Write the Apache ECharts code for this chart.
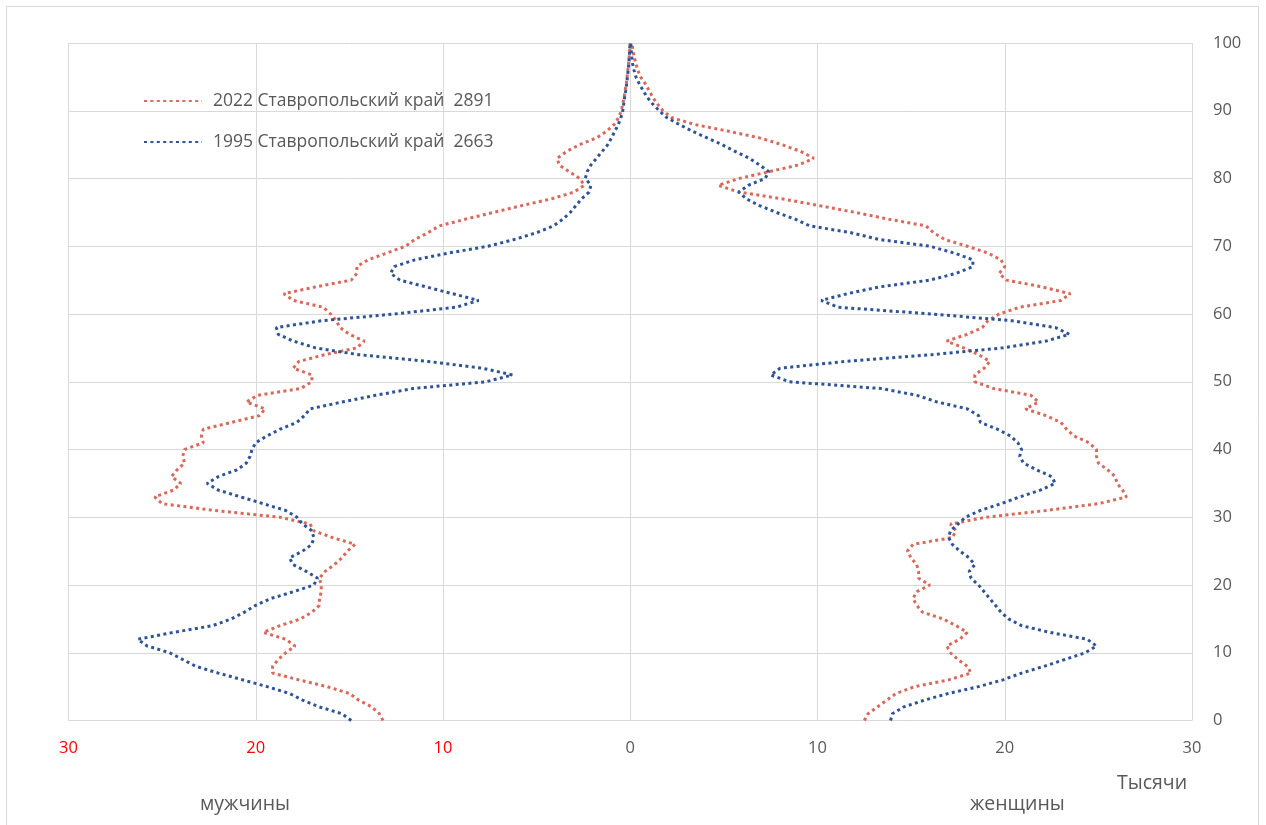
<!DOCTYPE html>
<html>
<head>
<meta charset="utf-8">
<script src="https://cdn.jsdelivr.net/npm/echarts@6/dist/echarts.min.js"></script>
<style>
html,body{margin:0;padding:0;background:#fff;}
#chart{width:1266px;height:825px;}
</style>
</head>
<body>
<div id="chart"></div>
<script>
const ages = [0,1,2,3,4,5,6,7,8,9,10,11,12,13,14,15,16,17,18,19,20,21,22,23,24,25,26,27,28,29,30,31,32,33,34,35,36,37,38,39,40,41,42,43,44,45,46,47,48,49,50,51,52,53,54,55,56,57,58,59,60,61,62,63,64,65,66,67,68,69,70,71,72,73,74,75,76,77,78,79,80,81,82,83,84,85,86,87,88,89,90,91,92,93,94,95,96,97,98,99,100];

// 2022, men (thousands)
const men2022 = [13.2,13.4,13.8,14.5,15.0,16.2,17.7,19.1,19.1,18.8,
 18.4,17.9,18.4,19.6,18.7,17.6,17.0,16.6,16.6,16.5,
 16.5,16.6,16.3,15.8,15.4,15.1,14.7,15.9,16.9,17.1,
 18.7,22.2,25.0,25.4,24.4,24.0,24.5,24.2,23.8,23.9,
 23.8,22.8,22.9,22.8,21.3,19.8,19.5,20.5,19.9,17.6,
 17.0,17.0,18.0,17.7,16.3,14.6,14.2,15.0,15.5,15.7,
 16.0,16.4,18.0,18.5,16.8,14.9,14.6,14.6,14.0,13.0,
 12.0,11.5,10.8,10.2,8.8,7.3,5.8,4.2,3.0,2.45,
 2.7,3.25,3.8,3.9,3.4,2.7,1.8,1.25,0.85,0.62,
 0.48,0.4,0.33,0.27,0.21,0.17,0.13,0.09,0.06,0.03,0.01];

// 1995, men (thousands)
const men1995 = [14.9,15.4,16.6,17.5,18.2,19.4,20.7,22.0,23.2,23.9,
 24.6,25.8,26.3,24.4,22.3,21.3,20.6,20.0,19.2,18.0,
 16.9,16.7,17.3,18.0,18.2,17.5,17.0,16.9,17.0,17.5,
 17.8,18.4,19.6,20.8,22.0,22.6,22.0,21.0,20.5,20.3,
 20.2,20.0,19.4,18.7,17.8,17.4,17.1,15.4,13.6,11.6,
 7.7,6.3,7.9,10.8,14.5,16.8,18.0,18.8,18.9,16.5,
 12.6,9.3,8.1,9.5,10.9,12.3,12.8,12.6,11.5,9.7,
 7.6,6.2,5.0,4.1,3.6,3.2,2.9,2.6,2.2,2.1,
 2.4,2.3,2.1,1.8,1.5,1.2,1.0,0.82,0.63,0.5,
 0.4,0.35,0.3,0.24,0.19,0.15,0.11,0.08,0.05,0.03,0.01];

// 2022, women (thousands)
const women2022 = [12.5,12.7,13.2,13.7,14.2,15.2,17.0,18.2,18.0,17.5,
 17.1,16.9,17.6,18.0,17.4,16.7,15.6,15.3,15.1,15.3,
 16.0,15.4,15.4,15.3,15.0,14.8,15.1,17.2,17.4,17.1,
 19.0,22.2,25.0,26.5,26.3,26.0,25.9,25.5,25.0,24.9,
 24.9,24.5,23.7,23.3,23.0,22.2,21.1,21.8,21.4,19.4,
 18.4,18.4,18.9,19.2,18.6,17.8,16.9,18.0,18.8,19.1,
 19.7,20.8,23.0,23.5,22.0,20.1,19.7,20.0,19.8,19.1,
 18.0,16.8,16.2,15.8,13.8,12.0,10.1,8.1,5.8,4.7,
 5.8,7.4,9.0,9.8,9.1,8.1,6.9,5.2,3.4,2.2,
 1.75,1.45,1.2,1.0,0.8,0.55,0.4,0.3,0.2,0.14,0.1];

// 1995, women (thousands)
const women1995 = [13.9,14.0,14.6,15.7,17.0,18.6,19.9,20.9,22.1,23.2,
 24.3,24.9,24.4,22.4,20.9,20.2,19.8,19.5,19.2,18.9,
 18.6,18.2,18.1,18.4,18.1,17.6,17.2,17.0,17.1,17.5,
 17.9,18.7,19.8,20.8,21.9,22.7,22.5,21.7,21.0,20.8,
 20.9,20.7,20.3,19.6,18.7,18.6,18.0,16.4,15.3,13.4,
 8.5,7.5,8.0,11.5,16.1,19.9,22.2,23.45,22.7,20.4,
 16.1,11.1,10.2,11.6,13.3,16.0,17.4,18.3,18.3,17.3,
 16.0,13.3,11.8,9.6,8.8,7.8,6.9,6.2,5.8,6.3,
 7.2,7.4,6.9,6.35,5.6,4.9,4.1,3.3,2.6,1.95,
 1.55,1.2,0.9,0.68,0.48,0.3,0.2,0.12,0.08,0.05,0.03];

const name2022 = '2022 Ставропольский край  2891';
const name1995 = '1995 Ставропольский край  2663';
const xTicks = [-30,-20,-10,0,10,20,30];
const yTicks = [0,10,20,30,40,50,60,70,80,90,100];

const RED = '#D9695A';
const BLUE = '#2E5496';
const GRAY = '#595959';
const FONT = '"Open Sans", "Liberation Sans", sans-serif';

function lineSeries(name, vals, sign, color) {
  return {
    type: 'line',
    name: name,
    data: vals.map((v, i) => [sign * v, ages[i]]),
    symbol: 'none',
    showSymbol: false,
    smooth: false,
    lineStyle: { color: color, width: 3, type: [3, 3.4], cap: 'butt' },
    itemStyle: { color: color },
    silent: true,
    z: 3
  };
}

const chart = echarts.init(document.getElementById('chart'), null, { renderer: 'canvas' });
chart.setOption({
  animation: false,
  backgroundColor: '#ffffff',
  textStyle: { fontFamily: FONT },
  grid: { left: 68.5, right: 74, top: 43, bottom: 104.5, containLabel: false },
  legend: {
    data: [name2022, name1995],
    orient: 'vertical',
    left: 138,
    top: 87,
    itemWidth: 58,
    itemHeight: 16,
    itemGap: 23,
    itemStyle: { opacity: 0 },
    textStyle: { color: GRAY, fontSize: 17.5, fontFamily: FONT, padding: [0, 0, 0, 6] },
    selectedMode: false
  },
  xAxis: {
    type: 'value',
    min: xTicks[0],
    max: xTicks[xTicks.length - 1],
    interval: 10,
    axisLine: { show: false },
    axisTick: { show: false },
    splitLine: { show: true, lineStyle: { color: '#D9D9D9', width: 1 } },
    axisLabel: {
      margin: 19,
      fontSize: 16.5,
      fontFamily: FONT,
      formatter: function (v) {
        return v < 0 ? '{r|' + Math.abs(v) + '}' : '{g|' + v + '}';
      },
      rich: {
        r: { color: '#FF0000', fontSize: 16.5, fontFamily: FONT },
        g: { color: GRAY, fontSize: 16.5, fontFamily: FONT }
      }
    }
  },
  yAxis: {
    type: 'value',
    position: 'right',
    min: yTicks[0],
    max: yTicks[yTicks.length - 1],
    interval: 10,
    axisLine: { show: false },
    axisTick: { show: false },
    splitLine: { show: true, lineStyle: { color: '#D9D9D9', width: 1 } },
    axisLabel: { margin: 21, color: GRAY, fontSize: 16.5, fontFamily: FONT }
  },
  series: [
    lineSeries(name2022, men2022, -1, RED),
    lineSeries(name2022, women2022, 1, RED),
    lineSeries(name1995, men1995, -1, BLUE),
    lineSeries(name1995, women1995, 1, BLUE)
  ],
  graphic: [
    { type: 'rect', silent: true, z: -10,
      shape: { x: 6.5, y: 6.5, width: 1252, height: 830 },
      style: { fill: null, stroke: '#D9D9D9', lineWidth: 1 } },
    { type: 'text', left: 1117, top: 773,
      style: { text: 'Тысячи', fill: GRAY, font: '19.5px ' + FONT } },
    { type: 'text', left: 200, top: 794,
      style: { text: 'мужчины', fill: GRAY, font: '19.5px ' + FONT } },
    { type: 'text', left: 970, top: 794,
      style: { text: 'женщины', fill: GRAY, font: '19.5px ' + FONT } }
  ]
});
</script>
</body>
</html>
